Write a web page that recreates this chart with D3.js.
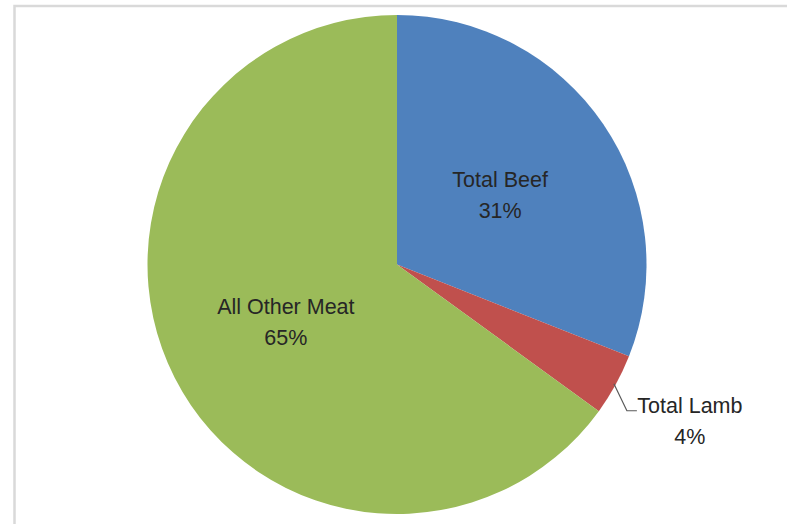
<!DOCTYPE html>
<html><head><meta charset="utf-8">
<script src="https://cdn.jsdelivr.net/npm/d3@7"></script>
<style>html,body{margin:0;padding:0;background:#fff;}svg{display:block;}</style>
</head><body>
<script>
const categories = ["Total Beef", "Total Lamb", "All Other Meat"];
const values = [31, 4, 65];
const colors = ["#4F81BD", "#C0504D", "#9BBB59"];

const W = 787, H = 524;
const cx = 397, cy = 264.5, R = 249.5;
const svg = d3.select("body").append("svg").attr("width", W).attr("height", H);

// chart frame (partly cropped)
svg.append("rect").attr("x", 14.5).attr("y", 6).attr("width", W + 20).attr("height", H + 20)
  .attr("fill", "none").attr("stroke", "#d9d9d9").attr("stroke-width", 2.5);

const data = categories.map((c, i) => ({name: c, value: values[i], color: colors[i]}));
const pie = d3.pie().value(d => d.value).sort(null);
const arcs = pie(data);
const arc = d3.arc().innerRadius(0).outerRadius(R);
const g = svg.append("g").attr("transform", `translate(${cx},${cy})`);
g.selectAll("path").data(arcs).enter().append("path")
  .attr("d", arc).attr("fill", d => d.data.color);

const total = d3.sum(values);
const fmt = v => Math.round(v / total * 100) + "%";
const font = "'Liberation Sans', Arial, sans-serif";
const fs = 21.5;
const lineGap = 31;

const labelArc = d3.arc().innerRadius(R * 0.5).outerRadius(R * 0.5);
arcs.forEach((a, i) => {
  let x, y;
  if (i === 1) {
    // outside label with leader line
    const mid = (a.startAngle + a.endAngle) / 2;
    const p0 = [Math.sin(mid) * (R - 2), -Math.cos(mid) * (R - 2)];
    const p1 = [p0[0] + 13, p0[1] + 27];
    const p2 = [p1[0] + 10, p1[1]];
    g.append("path").attr("d", d3.line()([p0, p1, p2]))
      .attr("fill", "none").attr("stroke", "#595959").attr("stroke-width", 1.2);
    x = p2[0] + 53; y = p2[1] + 2;
  } else {
    const c = labelArc.centroid(a);
    x = c[0]; y = c[1] - 7;
  }
  const t = g.append("text").attr("text-anchor", "middle")
    .attr("font-family", font).attr("font-size", fs).attr("fill", "#262626");
  t.append("tspan").attr("x", x).attr("y", y).text(a.data.name);
  t.append("tspan").attr("x", x).attr("y", y + lineGap).text(fmt(a.data.value));
});
</script>
</body></html>
